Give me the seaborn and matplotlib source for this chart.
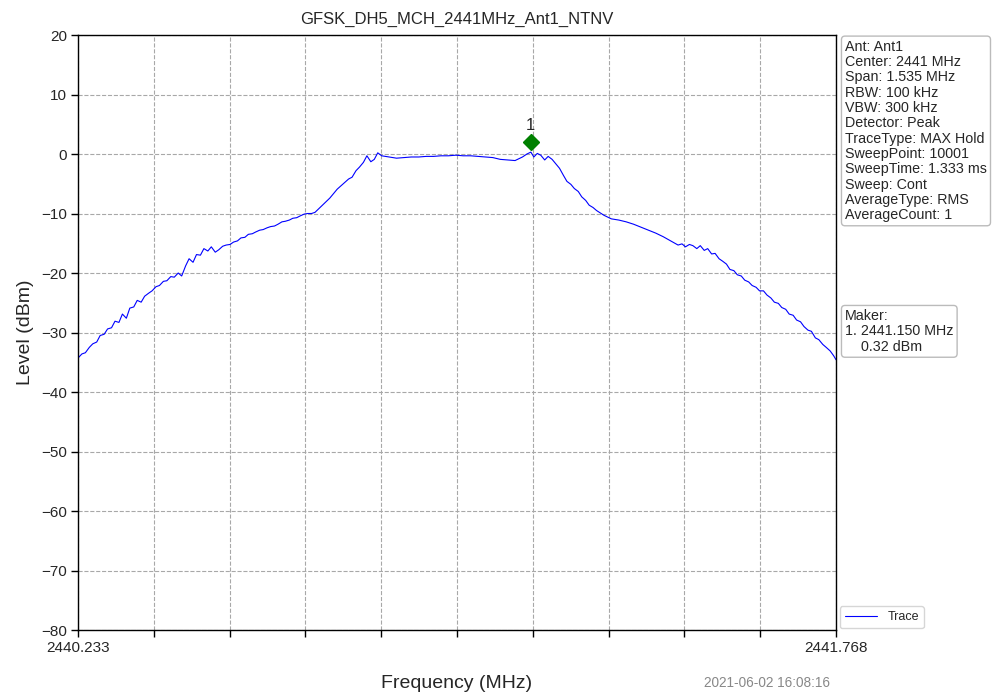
import matplotlib
matplotlib.use("Agg")
import matplotlib.pyplot as plt
import seaborn as sns
import pandas as pd

# trace (MHz, dBm)
freq_mhz = [
    2440.233, 2440.241, 2440.248, 2440.256, 2440.263, 2440.271, 2440.278, 2440.286,
    2440.293, 2440.301, 2440.308, 2440.316, 2440.323, 2440.331, 2440.338, 2440.346,
    2440.353, 2440.361, 2440.368, 2440.376, 2440.383, 2440.391, 2440.398, 2440.406,
    2440.413, 2440.421, 2440.428, 2440.436, 2440.443, 2440.451, 2440.458, 2440.466,
    2440.473, 2440.481, 2440.488, 2440.496, 2440.503, 2440.511, 2440.518, 2440.526,
    2440.533, 2440.541, 2440.548, 2440.556, 2440.563, 2440.571, 2440.578, 2440.586,
    2440.593, 2440.601, 2440.608, 2440.616, 2440.623, 2440.631, 2440.638, 2440.646,
    2440.653, 2440.661, 2440.668, 2440.676, 2440.683, 2440.691, 2440.698, 2440.706,
    2440.713, 2440.728, 2440.743, 2440.758,
    2440.773, 2440.781, 2440.788, 2440.796, 2440.803, 2440.811, 2440.818, 2440.826,
    2440.833, 2440.840, 2440.848, 2440.863, 2440.878, 2440.893, 2440.908, 2440.923,
    2440.938, 2440.953, 2440.968, 2440.983, 2440.998, 2441.013, 2441.028, 2441.043,
    2441.058, 2441.073, 2441.088, 2441.103, 2441.118, 2441.133, 2441.142, 2441.150,
    2441.156, 2441.163, 2441.170, 2441.178, 2441.185, 2441.193, 2441.200, 2441.208,
    2441.216, 2441.223, 2441.231, 2441.238, 2441.246, 2441.253, 2441.261, 2441.268,
    2441.276, 2441.283, 2441.298, 2441.313, 2441.328,
    2441.343, 2441.358, 2441.373, 2441.388, 2441.403, 2441.418, 2441.433, 2441.448,
    2441.456, 2441.463, 2441.471, 2441.478, 2441.486, 2441.493, 2441.501, 2441.508,
    2441.516, 2441.523, 2441.531, 2441.538, 2441.546, 2441.553, 2441.561, 2441.568,
    2441.576, 2441.583, 2441.591, 2441.598, 2441.606, 2441.613, 2441.621, 2441.628,
    2441.636, 2441.643, 2441.651, 2441.658, 2441.666, 2441.673, 2441.681, 2441.688,
    2441.696, 2441.703, 2441.711,
    2441.718, 2441.726, 2441.733, 2441.741, 2441.748, 2441.756, 2441.763, 2441.768,
]
level_dbm = [
    -34.3, -33.6, -33.4, -32.5, -31.9, -31.6, -30.5, -30.3,
    -29.4, -29.2, -28.1, -28.3, -26.9, -27.6, -25.9, -25.7,
    -24.6, -24.9, -23.9, -23.4, -23.0, -22.3, -22.1, -21.4,
    -21.3, -20.6, -20.7, -20.0, -20.5, -18.8, -17.6, -18.2,
    -16.9, -17.0, -15.9, -16.3, -15.6, -16.5, -16.1, -15.5,
    -15.3, -15.2, -14.8, -14.6, -14.1, -14.0, -13.5, -13.4,
    -13.1, -12.8, -12.7, -12.4, -12.2, -12.1, -11.8, -11.4,
    -11.3, -11.1, -10.8, -10.7, -10.4, -10.1, -10.0, -10.0,
    -9.8, -8.6, -7.4, -5.9,
    -4.8, -4.2, -3.9, -2.8, -2.2, -1.4, -0.3, -1.3,
    -0.9, 0.2, -0.3, -0.5, -0.7, -0.6, -0.5, -0.5,
    -0.4, -0.4, -0.3, -0.3, -0.2, -0.3, -0.3, -0.4,
    -0.5, -0.6, -0.9, -1.0, -1.1, -0.5, 0.0, 0.32,
    -0.5, 0.1, -0.2, -1.0, -0.4, -0.9, -1.6, -2.4,
    -3.6, -4.6, -5.1, -5.8, -6.3, -7.2, -7.8, -8.6,
    -9.0, -9.5, -10.3, -10.9, -11.1,
    -11.4, -11.8, -12.3, -12.8, -13.3, -13.9, -14.6, -15.3,
    -15.1, -15.6, -15.2, -15.4, -15.9, -15.4, -16.2, -15.9,
    -16.8, -16.7, -17.6, -18.0, -18.5, -19.4, -19.6, -20.3,
    -20.5, -21.2, -21.5, -22.1, -22.4, -23.0, -23.0, -23.7,
    -24.2, -24.9, -25.1, -25.8, -26.1, -26.9, -27.1, -27.9,
    -28.2, -29.0, -29.6,
    -29.8, -30.9, -31.2, -32.0, -32.5, -33.1, -33.9, -34.6,
]

x_tick_pos = [2440.233, 2440.3865, 2440.54, 2440.6935, 2440.847, 2441.0005,
              2441.154, 2441.3075, 2441.461, 2441.6145, 2441.768]
x_tick_labels = ["2440.233", "", "", "", "", "", "", "", "", "", "2441.768"]
y_ticks = [20, 10, 0, -10, -20, -30, -40, -50, -60, -70, -80]

marker_freq = 2441.150
marker_level = 0.32

info_lines = [
    "Ant: Ant1", "Center: 2441 MHz", "Span: 1.535 MHz", "RBW: 100 kHz",
    "VBW: 300 kHz", "Detector: Peak", "TraceType: MAX Hold", "SweepPoint: 10001",
    "SweepTime: 1.333 ms", "Sweep: Cont", "AverageType: RMS", "AverageCount: 1",
]
maker_lines = ["Maker:", "1. 2441.150 MHz", "    0.32 dBm"]

df = pd.DataFrame({"Frequency": freq_mhz, "Level": level_dbm})

sns.set_theme(style="white")
plt.rcParams["font.family"] = ["Liberation Sans", "DejaVu Sans"]

fig = plt.figure(figsize=(9.93, 6.96), dpi=100)
ax = fig.add_axes([0.0785, 0.0948, 0.7635, 0.8549])

sns.lineplot(data=df, x="Frequency", y="Level", ax=ax, color="#0000ff",
             linewidth=0.8, label="Trace")

# marker diamond drawn slightly above the peak, like the analyzer does
ax.plot([marker_freq], [marker_level + 1.7], marker="D", color="#008000",
        markersize=8, linestyle="none")
ax.text(marker_freq, marker_level + 3.2, "1", ha="center", va="bottom", fontsize=12)

ax.set_xlim(freq_mhz[0], freq_mhz[-1])
ax.set_ylim(-80, 20)
ax.set_xticks(x_tick_pos)
ax.set_xticklabels(x_tick_labels, fontsize=11)
ax.set_yticks(y_ticks)
ax.set_yticklabels([str(v).replace("-", "\u2212") for v in y_ticks], fontsize=11)
ax.tick_params(axis="both", direction="out", length=5, width=1, color="black",
               bottom=True, left=True, pad=3)
ax.grid(True, linestyle="--", color="#a8a8a8", linewidth=0.8)
for s in ax.spines.values():
    s.set_color("black")
    s.set_linewidth(1.0)

ax.set_title("GFSK_DH5_MCH_2441MHz_Ant1_NTNV", fontsize=12, pad=8)
ax.set_xlabel("Frequency (MHz)", fontsize=14, labelpad=14)
ax.set_ylabel("Level (dBm)", fontsize=14, labelpad=5)

ax.legend(loc="lower left", bbox_to_anchor=(1.0, -0.003), fontsize=9,
          frameon=True, edgecolor="#cccccc", handlelength=2.6, borderaxespad=0.3)

box = dict(boxstyle="round,pad=0.25", facecolor="white", edgecolor="#bbbbbb")
fig.text(0.851, 0.943, "\n".join(info_lines), fontsize=10.3, va="top", ha="left",
         linespacing=1.12, bbox=box)
fig.text(0.851, 0.556, "\n".join(maker_lines), fontsize=10.3, va="top", ha="left",
         linespacing=1.12, bbox=box)

fig.text(0.836, 0.009, "2021-06-02 16:08:16", fontsize=9.8, color="#888888",
         ha="right", va="bottom")

fig.savefig("out.png", dpi=100)
